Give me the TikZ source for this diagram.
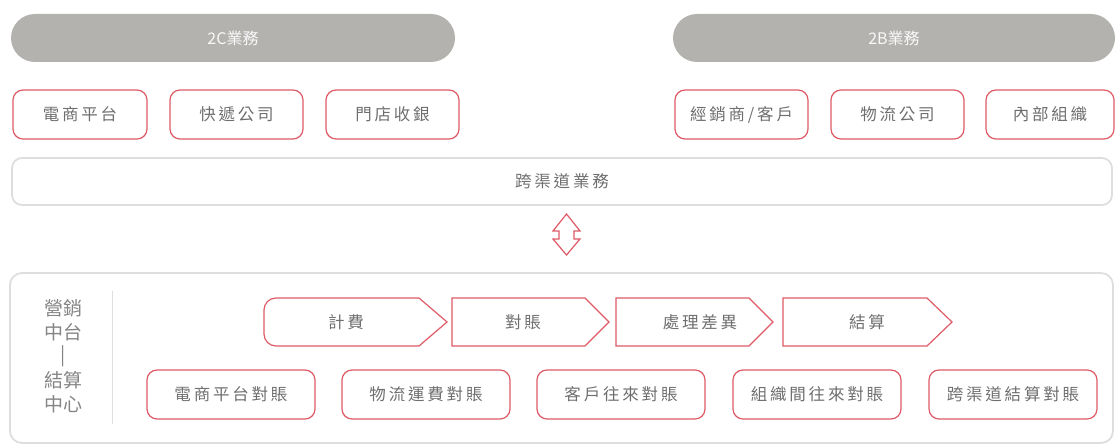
\documentclass[tikz,border=0pt]{standalone}
\usepackage{fontspec}
\newfontfamily\cjk[LetterSpace=17]{Noto Sans CJK TC}
\newfontfamily\cjkplain{Noto Sans CJK TC}
\definecolor{redline}{HTML}{DD5A66}
\definecolor{txt}{HTML}{6E6E6E}
\definecolor{pillgray}{HTML}{B4B2AF}
\definecolor{lightline}{HTML}{DEDEDE}
\tikzset{
  boxtext/.style={text=txt, font=\cjk\fontsize{16.5}{18}\selectfont},
  redbox/.style={boxtext, draw=redline, line width=1.2pt, rounded corners=10pt,
    minimum height=49pt, inner sep=0pt},
  lowbox/.style={redbox, minimum width=168pt, minimum height=49pt},
  pill/.style={fill=pillgray, rounded corners=24pt, minimum height=48pt, inner sep=0pt,
    text=white!95!gray, font=\cjkplain\fontsize{16}{18}\selectfont},
  frame/.style={draw=lightline, line width=1.8pt, inner sep=0pt},
  chev/.style={draw=redline, line width=1.2pt, line join=miter},
  lbl/.style={text=txt!85!white, font=\cjkplain\fontsize{19}{20}\selectfont, inner sep=0pt},
}
\begin{document}
\begin{tikzpicture}[x=1pt,y=-1pt]
\useasboundingbox (0,0) rectangle (1116,446);
% top pills
\node[pill, minimum width=444pt] (p2c) at (233,38) {2C業務};
\node[pill, minimum width=442pt] (p2b) at (894,38) {2B業務};
% top boxes
\node[redbox, minimum width=134pt] (b1) at (80,114.5) {電商平台};
\node[redbox, minimum width=133pt] (b2) at (236.5,114.5) {快遞公司};
\node[redbox, minimum width=133pt] (b3) at (392.5,114.5) {門店收銀};
\node[redbox, minimum width=133pt] (b4) at (741.5,114.5) {經銷商/客戶};
\node[redbox, minimum width=133pt] (b5) at (897.5,114.5) {物流公司};
\node[redbox, minimum width=128pt] (b6) at (1050,114.5) {內部組織};
% band
\node[frame, boxtext, rounded corners=10pt, minimum width=1100pt, minimum height=47pt] (band) at (562,181.5) {跨渠道業務};
% panel
\node[frame, rounded corners=12pt, minimum width=1103pt, minimum height=170pt] (panel) at (561.5,358) {};
% double arrow between band and panel
\draw[chev, fill=white] (566.5,214) -- (580,231) -- (574,231) -- (574,239) -- (580,239)
  -- (566.5,255) -- (553,239) -- (559,239) -- (559,231) -- (553,231) -- cycle;
% left label
\node[lbl] (l1) at (63,308) {營銷};
\node[lbl] (l2) at (63,332) {中台};
\node[lbl] (l3) at (63,356) {|};
\node[lbl] (l4) at (63,380) {結算};
\node[lbl] (l5) at (63,404) {中心};
\draw[lightline, line width=1pt] (112,291) -- (112,424);
% chevrons
\draw[chev] (340,346) [rounded corners=12pt] -- (264,346) -- (264,298) -- (340,298)
  [sharp corners] -- (419,298) -- (447,322) -- (419,346) -- cycle;
\draw[chev] (452,298) -- (585,298) -- (609,322) -- (585,346) -- (452,346) -- cycle;
\draw[chev] (616,298) -- (749,298) -- (773,322) -- (749,346) -- (616,346) -- cycle;
\draw[chev] (783,298) -- (927,298) -- (952,322) -- (927,346) -- (783,346) -- cycle;
\node[boxtext] (c1) at (346,322) {計費};
\node[boxtext] (c2) at (523,322) {對賬};
\node[boxtext] (c3) at (700,322) {處理差異};
\node[boxtext] (c4) at (867,322) {結算};
% bottom boxes
\node[lowbox] (d1) at (231,394.5) {電商平台對賬};
\node[lowbox] (d2) at (426,394.5) {物流運費對賬};
\node[lowbox] (d3) at (621,394.5) {客戶往來對賬};
\node[lowbox] (d4) at (817,394.5) {組織間往來對賬};
\node[lowbox] (d5) at (1013,394.5) {跨渠道結算對賬};
\end{tikzpicture}
\end{document}
